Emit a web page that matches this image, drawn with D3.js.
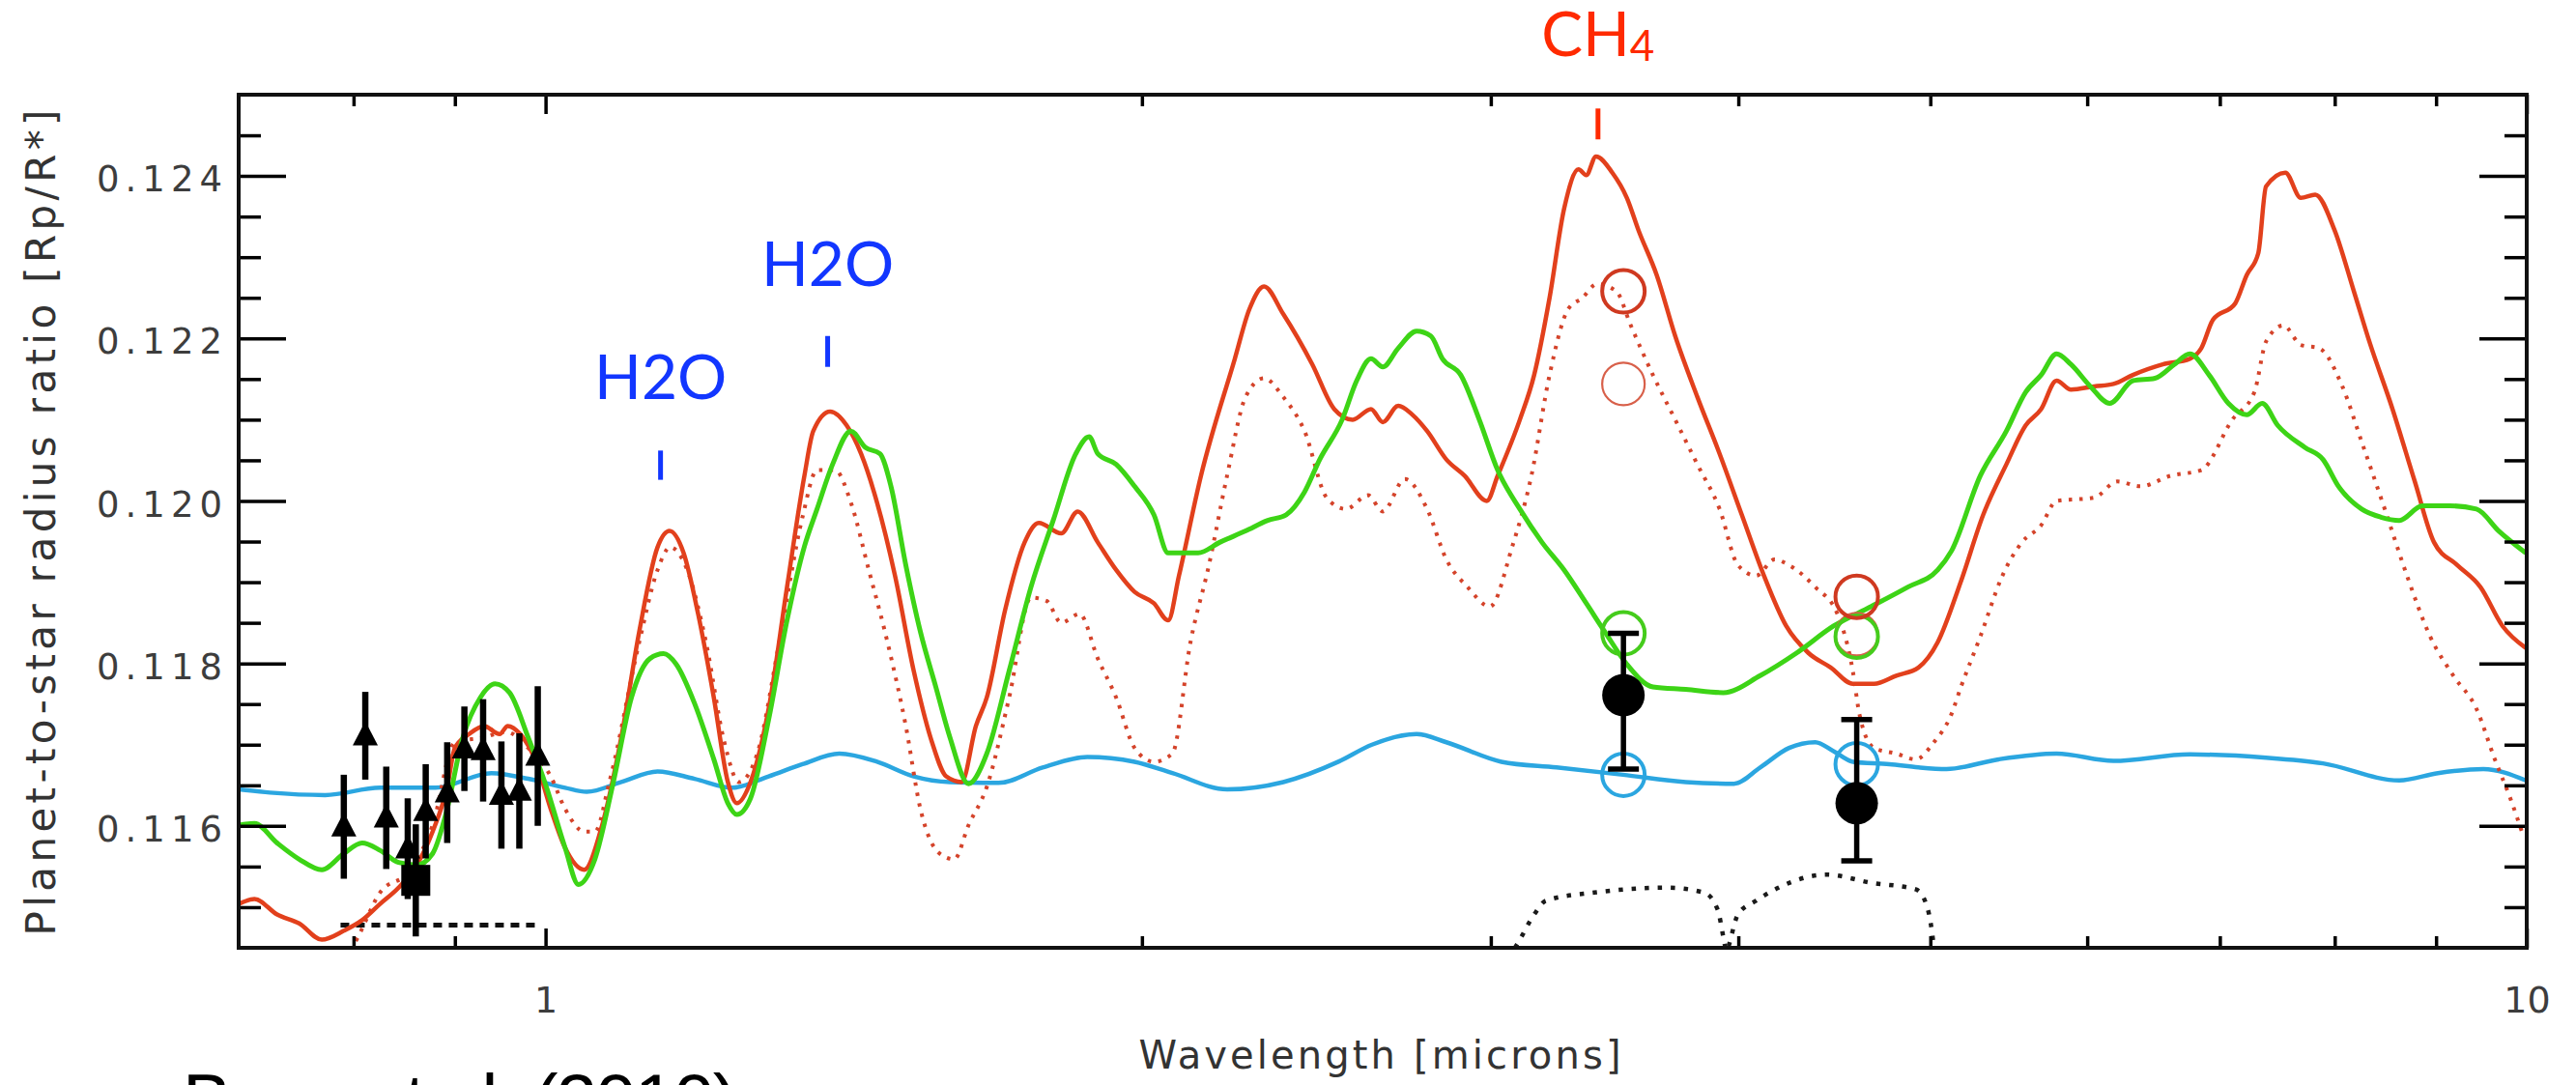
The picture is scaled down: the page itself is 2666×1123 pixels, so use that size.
<!DOCTYPE html>
<html>
<head>
<meta charset="utf-8">
<script src="https://cdn.jsdelivr.net/npm/d3@7"></script>
<style>
  html, body { margin: 0; padding: 0; background: #fff; }
  svg { display: block; }
</style>
</head>
<body>
<svg id="chart" width="2666" height="1123"></svg>
<script>
// ---- Model transmission spectra: [wavelength (micron), Rp/R*] ----
const modelMethane = [[0.700,0.11504],[0.713,0.11510],[0.732,0.11491],[0.751,0.11480],[0.771,0.11460],[0.791,0.11471],[0.808,0.11484],[0.825,0.11504],[0.843,0.11524],[0.861,0.11552],[0.877,0.11593],[0.892,0.11648],[0.900,0.11696],[0.915,0.11713],[0.931,0.11723],[0.948,0.11713],[0.957,0.11723],[0.971,0.11713],[0.989,0.11679],[1.006,0.11621],[1.023,0.11573],[1.046,0.11546],[1.068,0.11601],[1.092,0.11709],[1.115,0.11839],[1.139,0.11943],[1.155,0.11963],[1.174,0.11936],[1.194,0.11861],[1.216,0.11758],[1.236,0.11654],[1.249,0.11628],[1.269,0.11654],[1.296,0.11744],[1.324,0.11894],[1.351,0.12031],[1.365,0.12086],[1.392,0.12110],[1.419,0.12093],[1.443,0.12058],[1.470,0.11998],[1.501,0.11908],[1.534,0.11791],[1.567,0.11703],[1.593,0.11661],[1.622,0.11654],[1.649,0.11723],[1.670,0.11758],[1.706,0.11866],[1.745,0.11949],[1.774,0.11973],[1.821,0.11960],[1.856,0.11987],[1.900,0.11949],[1.941,0.11915],[1.983,0.11888],[2.028,0.11874],[2.062,0.11853],[2.088,0.11908],[2.142,0.12031],[2.228,0.12175],[2.266,0.12236],[2.305,0.12264],[2.357,0.12230],[2.438,0.12168],[2.501,0.12113],[2.555,0.12100],[2.610,0.12113],[2.646,0.12097],[2.694,0.12117],[2.739,0.12106],[2.786,0.12086],[2.849,0.12051],[2.910,0.12031],[2.986,0.12000],[3.024,0.12031],[3.103,0.12100],[3.155,0.12155],[3.212,0.12250],[3.267,0.12360],[3.322,0.12408],[3.352,0.12401],[3.390,0.12424],[3.455,0.12404],[3.514,0.12373],[3.562,0.12333],[3.638,0.12278],[3.717,0.12203],[3.814,0.12128],[3.914,0.12058],[4.016,0.11983],[4.121,0.11908],[4.229,0.11846],[4.339,0.11813],[4.453,0.11795],[4.569,0.11775],[4.683,0.11775],[4.806,0.11785],[4.932,0.11795],[5.043,0.11826],[5.181,0.11901],[5.317,0.11983],[5.462,0.12045],[5.586,0.12093],[5.687,0.12113],[5.790,0.12148],[5.888,0.12137],[6.049,0.12141],[6.186,0.12144],[6.327,0.12155],[6.551,0.12168],[6.760,0.12175],[6.851,0.12188],[6.944,0.12223],[7.126,0.12243],[7.222,0.12278],[7.320,0.12305],[7.386,0.12387],[7.554,0.12404],[7.691,0.12373],[7.821,0.12377],[7.999,0.12333],[8.180,0.12258],[8.329,0.12196],[8.556,0.12113],[8.780,0.12024],[8.979,0.11949],[9.224,0.11921],[9.476,0.11894],[9.723,0.11846],[9.989,0.11819]];

const modelMethaneReduced = [[0.791,0.11437],[0.801,0.11456],[0.825,0.11518],[0.855,0.11546],[0.877,0.11601],[0.900,0.11703],[0.931,0.11709],[0.955,0.11716],[0.980,0.11696],[1.006,0.11661],[1.023,0.11621],[1.046,0.11593],[1.059,0.11593],[1.077,0.11654],[1.115,0.11826],[1.139,0.11915],[1.156,0.11943],[1.179,0.11915],[1.205,0.11826],[1.231,0.11703],[1.252,0.11654],[1.279,0.11689],[1.312,0.11826],[1.348,0.11980],[1.371,0.12038],[1.400,0.12038],[1.426,0.11998],[1.456,0.11915],[1.488,0.11826],[1.520,0.11723],[1.546,0.11621],[1.581,0.11566],[1.608,0.11559],[1.635,0.11601],[1.670,0.11648],[1.714,0.11758],[1.758,0.11881],[1.790,0.11877],[1.821,0.11850],[1.860,0.11861],[1.900,0.11806],[1.941,0.11758],[1.983,0.11696],[2.028,0.11679],[2.072,0.11689],[2.116,0.11826],[2.162,0.11921],[2.208,0.12031],[2.256,0.12128],[2.305,0.12151],[2.357,0.12128],[2.416,0.12086],[2.479,0.12004],[2.535,0.11990],[2.601,0.12007],[2.646,0.11987],[2.715,0.12027],[2.786,0.11990],[2.849,0.11928],[2.920,0.11894],[2.997,0.11870],[3.075,0.11943],[3.145,0.12031],[3.212,0.12155],[3.282,0.12236],[3.337,0.12250],[3.394,0.12267],[3.471,0.12258],[3.530,0.12216],[3.622,0.12155],[3.717,0.12100],[3.814,0.12045],[3.914,0.11990],[3.998,0.11921],[4.084,0.11908],[4.172,0.11928],[4.243,0.11921],[4.374,0.11894],[4.488,0.11861],[4.569,0.11791],[4.605,0.11737],[4.683,0.11696],[4.806,0.11689],[4.915,0.11682],[5.021,0.11703],[5.123,0.11737],[5.181,0.11771],[5.299,0.11833],[5.437,0.11908],[5.561,0.11949],[5.687,0.11970],[5.790,0.12000],[6.049,0.12004],[6.214,0.12024],[6.383,0.12018],[6.610,0.12031],[6.851,0.12038],[7.102,0.12100],[7.287,0.12134],[7.386,0.12196],[7.537,0.12216],[7.691,0.12192],[7.857,0.12188],[8.071,0.12141],[8.254,0.12073],[8.479,0.11990],[8.701,0.11908],[8.939,0.11833],[9.182,0.11785],[9.433,0.11744],[9.636,0.11682],[9.811,0.11634],[9.944,0.11593]];

const modelWater = [[0.700,0.11601],[0.713,0.11603],[0.732,0.11579],[0.751,0.11559],[0.771,0.11546],[0.791,0.11566],[0.808,0.11579],[0.825,0.11570],[0.843,0.11555],[0.861,0.11552],[0.877,0.11566],[0.892,0.11621],[0.907,0.11703],[0.927,0.11758],[0.943,0.11775],[0.959,0.11764],[0.980,0.11709],[1.001,0.11648],[1.023,0.11573],[1.039,0.11528],[1.059,0.11559],[1.082,0.11654],[1.105,0.11758],[1.129,0.11806],[1.147,0.11812],[1.164,0.11799],[1.189,0.11751],[1.216,0.11682],[1.236,0.11628],[1.249,0.11614],[1.269,0.11634],[1.296,0.11731],[1.324,0.11853],[1.351,0.11944],[1.371,0.11990],[1.396,0.12045],[1.426,0.12086],[1.450,0.12066],[1.475,0.12058],[1.494,0.12018],[1.520,0.11921],[1.546,0.11839],[1.574,0.11771],[1.600,0.11709],[1.635,0.11652],[1.670,0.11689],[1.714,0.11791],[1.758,0.11894],[1.804,0.11976],[1.852,0.12058],[1.881,0.12079],[1.900,0.12058],[1.941,0.12045],[1.983,0.12018],[2.028,0.11983],[2.062,0.11936],[2.088,0.11936],[2.135,0.11936],[2.189,0.11949],[2.256,0.11963],[2.315,0.11976],[2.365,0.11983],[2.416,0.12011],[2.459,0.12051],[2.524,0.12100],[2.567,0.12148],[2.610,0.12175],[2.646,0.12165],[2.694,0.12188],[2.752,0.12209],[2.798,0.12203],[2.836,0.12175],[2.897,0.12155],[2.960,0.12100],[3.024,0.12038],[3.103,0.11990],[3.184,0.11949],[3.267,0.11915],[3.352,0.11874],[3.425,0.11839],[3.514,0.11799],[3.622,0.11771],[3.763,0.11768],[3.931,0.11764],[4.103,0.11785],[4.281,0.11813],[4.468,0.11846],[4.668,0.11870],[4.871,0.11894],[5.043,0.11915],[5.123,0.11938],[5.299,0.12031],[5.462,0.12086],[5.586,0.12134],[5.687,0.12155],[5.790,0.12181],[5.888,0.12168],[6.022,0.12141],[6.159,0.12120],[6.327,0.12148],[6.492,0.12151],[6.639,0.12168],[6.760,0.12181],[6.913,0.12155],[7.070,0.12120],[7.222,0.12106],[7.353,0.12120],[7.487,0.12093],[7.726,0.12066],[7.892,0.12051],[8.035,0.12018],[8.254,0.11990],[8.441,0.11980],[8.623,0.11976],[8.859,0.11994],[9.142,0.11994],[9.433,0.11990],[9.680,0.11963],[9.989,0.11936]];

const modelFlat = [[0.700,0.11645],[0.726,0.11641],[0.774,0.11638],[0.825,0.11647],[0.880,0.11647],[0.939,0.11665],[0.980,0.11658],[1.023,0.11647],[1.049,0.11642],[1.092,0.11654],[1.139,0.11667],[1.189,0.11658],[1.242,0.11647],[1.296,0.11661],[1.348,0.11676],[1.407,0.11689],[1.470,0.11679],[1.534,0.11661],[1.600,0.11654],[1.693,0.11653],[1.782,0.11672],[1.877,0.11685],[1.983,0.11679],[2.072,0.11665],[2.208,0.11645],[2.357,0.11654],[2.513,0.11679],[2.613,0.11700],[2.752,0.11713],[2.849,0.11703],[3.037,0.11679],[3.238,0.11672],[3.498,0.11663],[3.763,0.11654],[3.980,0.11652],[4.103,0.11672],[4.243,0.11696],[4.374,0.11703],[4.468,0.11692],[4.569,0.11679],[4.768,0.11676],[4.932,0.11672],[5.095,0.11670],[5.413,0.11682],[5.790,0.11689],[6.186,0.11680],[6.760,0.11688],[7.386,0.11684],[7.892,0.11677],[8.623,0.11656],[9.019,0.11665],[9.508,0.11670],[9.989,0.11656]];

// ---- Spitzer IRAC bandpasses (scaled, drawn along the bottom) ----
const bandIrac1 = [[3.058,0.11437],[3.089,0.11452],[3.155,0.11491],[3.198,0.11508],[3.383,0.11518],[3.684,0.11524],[3.844,0.11518],[3.905,0.11497],[3.931,0.11463],[3.949,0.11437]];
const bandIrac2 = [[3.936,0.11437],[3.955,0.11452],[3.998,0.11491],[4.084,0.11508],[4.191,0.11524],[4.433,0.11540],[4.668,0.11530],[4.915,0.11522],[4.976,0.11504],[5.010,0.11469],[5.027,0.11437]];
const bandOptical = [[0.788,0.11478],[0.990,0.11478]];

// ---- Observations ----
const opticalWave  = [0.791,0.811,0.831,0.852,0.870,0.892,0.910,0.930,0.950,0.970,0.991];
const opticalRatio = [0.11599,0.11711,0.11610,0.11572,0.11618,0.11641,0.11695,0.11693,0.11638,0.11643,0.11686];
const opticalErr   = [0.00064,0.00054,0.00063,0.00062,0.00058,0.00062,0.00052,0.00063,0.00066,0.00071,0.00086];

const broadbandWave  = [0.860];
const broadbandRatio = [0.11533];
const broadbandErr   = [0.00069];

const spitzerWave  = [3.50, 4.59];
const spitzerRatio = [0.11761, 0.11628];
const spitzerHigh  = [0.11837, 0.11731];
const spitzerLow   = [0.11670, 0.11557];

// Band-integrated model values at the IRAC wavelengths
const bandMethane        = [0.12258, 0.11882];
const bandMethaneReduced = [0.12144, 0.11836];
const bandWater          = [0.11837, 0.11833];
const bandFlat           = [0.11663, 0.11676];

// ---- Axis ticks ----
const yMajorTicks = [0.116, 0.118, 0.120, 0.122, 0.124];
const yMinorTicks = [0.115, 0.1155, 0.1165, 0.117, 0.1175, 0.1185, 0.119, 0.1195, 0.1205, 0.121, 0.1215, 0.1225, 0.123, 0.1235, 0.1245];
const xMajorTicks = [1, 10];
const xMinorTicks = [0.8, 0.9, 2, 3, 4, 5, 6, 7, 8, 9];

// ---- Molecular feature annotations ----
const featureNames  = ["H2O", "H2O", "CH"];
const featureSubs   = ["", "", "4"];
const featureWave   = [1.143, 1.388, 3.398];
const featureText   = [0.12126, 0.12265, 0.12547];
const featureTickHi = [0.12062, 0.12203, 0.12483];
const featureTickLo = [0.12026, 0.12165, 0.12445];
const featureColor  = ["#1236ff", "#1236ff", "#ff2a00"];

// ---------------------------------------------------------------
const svg = d3.select("#chart");
svg.append("rect").attr("width", 2666).attr("height", 1123).attr("fill", "#fff");

const x = d3.scaleLog().domain([0.7, 10]).range([247, 2615]);
const y = d3.scaleLinear().domain([0.1145, 0.125]).range([981, 98]);
const [x0, x1] = x.range();
const [yb, yt] = y.range();

svg.append("clipPath").attr("id", "plotClip")
  .append("rect").attr("x", x0).attr("y", yt).attr("width", x1 - x0).attr("height", yb - yt);

const plot = svg.append("g").attr("clip-path", "url(#plotClip)");

const line = d3.line()
  .x(d => x(d[0])).y(d => y(d[1]))
  .curve(d3.curveMonotoneX);

// bandpass curves
[bandIrac1, bandIrac2].forEach(b => {
  plot.append("path").attr("d", line(b))
    .attr("fill", "none").attr("stroke", "#1a1a1a")
    .attr("stroke-width", 4.5).attr("stroke-dasharray", "4.5 9");
});
plot.append("path").attr("d", d3.line().x(d => x(d[0])).y(d => y(d[1]))(bandOptical))
  .attr("fill", "none").attr("stroke", "#111")
  .attr("stroke-width", 5).attr("stroke-dasharray", "9 7");

// model spectra
plot.append("path").attr("d", line(modelFlat))
  .attr("fill", "none").attr("stroke", "#2ba6e0").attr("stroke-width", 4.5)
  .attr("stroke-linejoin", "round");
plot.append("path").attr("d", line(modelMethaneReduced))
  .attr("fill", "none").attr("stroke", "#d4432a").attr("stroke-width", 4)
  .attr("stroke-dasharray", "3.5 7.5");
plot.append("path").attr("d", line(modelMethane))
  .attr("fill", "none").attr("stroke", "#e2401c").attr("stroke-width", 4.5)
  .attr("stroke-linejoin", "round");
plot.append("path").attr("d", line(modelWater))
  .attr("fill", "none").attr("stroke", "#3dd416").attr("stroke-width", 5)
  .attr("stroke-linejoin", "round");

// band-integrated model points (open circles)
const openSets = [
  { vals: bandFlat, color: "#2ba6e0", w: 4 },
  { vals: bandMethaneReduced, color: "#d8604a", w: 2.2 },
  { vals: bandWater, color: "#45cc1c", w: 4 },
  { vals: bandMethane, color: "#cf3920", w: 4 }
];
openSets.forEach(s => {
  plot.selectAll(null).data(spitzerWave).enter().append("circle")
    .attr("cx", d => x(d)).attr("cy", (d, i) => y(s.vals[i]))
    .attr("r", 22).attr("fill", "none")
    .attr("stroke", s.color).attr("stroke-width", s.w);
});

// optical transit depths: triangles with error bars
const marks = svg.append("g");
opticalWave.forEach((w, i) => {
  const cx = x(w), cy = y(opticalRatio[i]);
  marks.append("line")
    .attr("x1", cx).attr("x2", cx)
    .attr("y1", y(opticalRatio[i] + opticalErr[i]))
    .attr("y2", y(opticalRatio[i] - opticalErr[i]))
    .attr("stroke", "#000").attr("stroke-width", 6.5);
  marks.append("path")
    .attr("d", `M${cx},${cy - 15}L${cx + 13},${cy + 10}L${cx - 13},${cy + 10}Z`)
    .attr("fill", "#000");
});

// broadband point: square with error bar
broadbandWave.forEach((w, i) => {
  const cx = x(w), cy = y(broadbandRatio[i]);
  marks.append("line")
    .attr("x1", cx).attr("x2", cx)
    .attr("y1", y(broadbandRatio[i] + broadbandErr[i]))
    .attr("y2", y(broadbandRatio[i] - broadbandErr[i]))
    .attr("stroke", "#000").attr("stroke-width", 6.5);
  marks.append("rect")
    .attr("x", cx - 15).attr("y", cy - 16).attr("width", 30).attr("height", 32)
    .attr("fill", "#000");
});

// Spitzer points: filled circles with capped error bars
spitzerWave.forEach((w, i) => {
  const cx = x(w);
  const yHi = y(spitzerHigh[i]), yLo = y(spitzerLow[i]);
  marks.append("line").attr("x1", cx).attr("x2", cx).attr("y1", yHi).attr("y2", yLo)
    .attr("stroke", "#000").attr("stroke-width", 5.5);
  [yHi, yLo].forEach(yy => {
    marks.append("line").attr("x1", cx - 16).attr("x2", cx + 16).attr("y1", yy).attr("y2", yy)
      .attr("stroke", "#000").attr("stroke-width", 5.5);
  });
  marks.append("circle").attr("cx", cx).attr("cy", y(spitzerRatio[i])).attr("r", 22)
    .attr("fill", "#000");
});

// ---- frame and axes ----
const axes = svg.append("g");
function styleAxis(g) {
  g.select(".domain").remove();
  g.selectAll(".tick line").attr("stroke", "#000").attr("stroke-width", 3.5);
}

axes.append("g").attr("transform", `translate(${x0},0)`)
  .call(d3.axisLeft(y).tickValues(yMajorTicks).tickSizeInner(-49).tickSizeOuter(0)
        .tickPadding(17).tickFormat(d3.format(".3f")))
  .call(styleAxis)
  .call(g => g.selectAll(".tick text")
    .attr("font-family", "DejaVu Sans").attr("font-size", 37).attr("fill", "#3d3d3d")
    .attr("textLength", 130).attr("lengthAdjust", "spacing").attr("dy", "0.42em"));
axes.append("g").attr("transform", `translate(${x0},0)`)
  .call(d3.axisLeft(y).tickValues(yMinorTicks).tickSizeInner(-23).tickSizeOuter(0).tickFormat(""))
  .call(styleAxis);
axes.append("g").attr("transform", `translate(${x1},0)`)
  .call(d3.axisRight(y).tickValues(yMajorTicks).tickSizeInner(-49).tickSizeOuter(0).tickFormat(""))
  .call(styleAxis);
axes.append("g").attr("transform", `translate(${x1},0)`)
  .call(d3.axisRight(y).tickValues(yMinorTicks).tickSizeInner(-23).tickSizeOuter(0).tickFormat(""))
  .call(styleAxis);

axes.append("g").attr("transform", `translate(0,${yb})`)
  .call(d3.axisBottom(x).tickValues(xMajorTicks).tickSizeInner(-20).tickSizeOuter(0)
        .tickPadding(40).tickFormat(d3.format("d")))
  .call(styleAxis)
  .call(g => g.selectAll(".tick text")
    .attr("font-family", "DejaVu Sans").attr("font-size", 38).attr("fill", "#3d3d3d"));
axes.append("g").attr("transform", `translate(0,${yb})`)
  .call(d3.axisBottom(x).tickValues(xMinorTicks).tickSizeInner(-12).tickSizeOuter(0).tickFormat(""))
  .call(styleAxis);
axes.append("g").attr("transform", `translate(0,${yt})`)
  .call(d3.axisTop(x).tickValues(xMajorTicks).tickSizeInner(-20).tickSizeOuter(0).tickFormat(""))
  .call(styleAxis);
axes.append("g").attr("transform", `translate(0,${yt})`)
  .call(d3.axisTop(x).tickValues(xMinorTicks).tickSizeInner(-12).tickSizeOuter(0).tickFormat(""))
  .call(styleAxis);

svg.append("rect")
  .attr("x", x0).attr("y", yt).attr("width", x1 - x0).attr("height", yb - yt)
  .attr("fill", "none").attr("stroke", "#111").attr("stroke-width", 4);

// axis titles
svg.append("text")
  .attr("x", 1428).attr("y", 1106).attr("text-anchor", "middle")
  .attr("font-family", "DejaVu Sans").attr("font-size", 40).attr("fill", "#333")
  .attr("textLength", 499).attr("lengthAdjust", "spacing")
  .text("Wavelength [microns]");
svg.append("text")
  .attr("transform", "translate(57,541) rotate(-90)").attr("text-anchor", "middle")
  .attr("font-family", "DejaVu Sans").attr("font-size", 42).attr("fill", "#333")
  .attr("textLength", 855).attr("lengthAdjust", "spacing")
  .text("Planet-to-star radius ratio [Rp/R*]");

// molecular features
featureNames.forEach((name, i) => {
  const fx = x(featureWave[i]);
  const t = svg.append("text")
    .attr("x", fx).attr("y", y(featureText[i])).attr("text-anchor", "middle")
    .attr("font-family", "Lato").attr("font-size", 64).attr("fill", featureColor[i]);
  t.append("tspan").text(name);
  if (featureSubs[i]) {
    t.append("tspan").attr("font-size", 44).attr("dy", 5).text(featureSubs[i]);
  }
  svg.append("line")
    .attr("x1", fx).attr("x2", fx)
    .attr("y1", y(featureTickHi[i])).attr("y2", y(featureTickLo[i]))
    .attr("stroke", featureColor[i]).attr("stroke-width", 5);
});

// reference for the optical data (runs off the lower edge of the figure)
svg.append("text")
  .attr("x", 189).attr("y", 1165)
  .attr("font-family", "Liberation Sans").attr("font-size", 76).attr("fill", "#000")
  .attr("textLength", 574).attr("lengthAdjust", "spacing")
  .text("Bean et al. (2010)");
</script>
</body>
</html>
